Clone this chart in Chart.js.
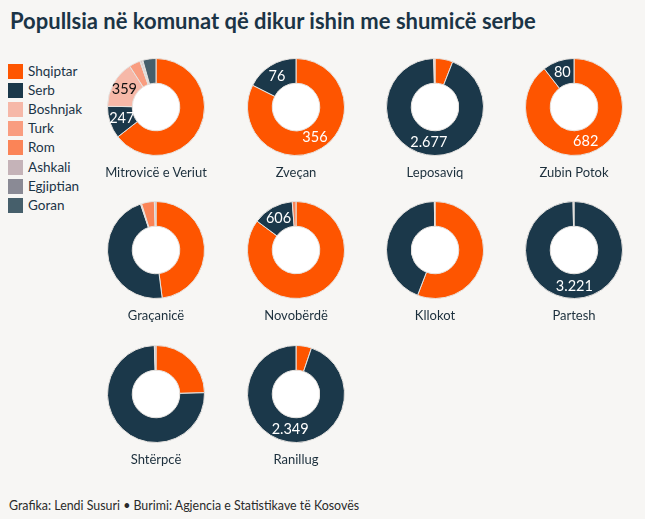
<!DOCTYPE html>
<html>
<head>
<meta charset="utf-8">
<script src="https://cdn.jsdelivr.net/npm/chart.js@4"></script>
<style>
  html, body { margin:0; padding:0; background:#f7f6f4; }
  body { width:645px; height:519px; position:relative; overflow:hidden; font-family: Lato, "Noto Sans", sans-serif; color:#1c2f3c; }
  #title { position:absolute; left:10px; top:7px; font-size:22px; font-weight:700; color:#1b3446; white-space:nowrap; }
  .leg { position:absolute; left:8px; height:15px; font-size:13.5px; line-height:15px; white-space:nowrap; color:#1b3446; }
  .leg span.sw { display:inline-block; width:15px; height:15px; vertical-align:top; margin-right:5px; }
  .cw { position:absolute; width:120px; height:120px; }
  .name { position:absolute; width:140px; text-align:center; font-size:13px; color:#1c2f3c; white-space:nowrap; }
  #foot { position:absolute; left:9px; top:498px; font-size:12.4px; color:#2a2a2a; white-space:nowrap; }
</style>
</head>
<body>
<div id="title">Popullsia në komunat që dikur ishin me shumicë serbe</div>
<div id="foot">Grafika: Lendi Susuri • Burimi: Agjencia e Statistikave të Kosovës</div>
<script>
// ---- DATA ----
const categories = ["Shqiptar","Serb","Boshnjak","Turk","Rom","Ashkali","Egjiptian","Goran"];
const municipalities = ["Mitrovicë e Veriut","Zveçan","Leposaviq","Zubin Potok","Graçanicë","Novobërdë","Kllokot","Partesh","Shtërpcë","Ranillug"];
const shqiptar  = [1475, 356,  170, 682, 5300, 3790, 1570,    0, 2470,  128];
const serb      = [ 247,  76, 2677,  80, 5180,  606, 1235, 3221, 7520, 2349];
const boshnjak  = [ 359,   0,   12,   0,   40,    0,    0,    0,    0,    0];
const turk      = [  85,   0,    0,   0,    0,    0,    0,    0,    0,    0];
const rom       = [   5,   0,    0,   0,  470,   55,    0,    0,    0,    0];
const ashkali   = [  12,   0,    0,   0,   60,    0,    6,   10,   55,    0];
const egjiptian = [   6,   0,    0,   0,    0,    0,    0,    0,    0,    0];
const goran     = [ 100,   0,    0,   0,    0,    0,    0,    0,    0,    0];
// which values carry a printed label: [municipality index, category index]
const labelled = [[0,1],[0,2],[1,0],[1,1],[2,1],[3,0],[3,1],[5,1],[7,1],[9,1]];

// ---- STYLE ----
const colors = ["#fe5500","#1b384a","#f6b8a8","#f99d80","#fb8457","#c5b3b8","#8a8a95","#465f6b"];
const labelColors = ["#ffffff","#ffffff","#111111","#111111","#111111","#111111","#ffffff","#ffffff"];
const colX = [156, 296, 435, 574];
const rowY = [106.5, 250, 394];
const gridPos = [[0,0],[1,0],[2,0],[3,0],[0,1],[1,1],[2,1],[3,1],[0,2],[1,2]];

const series = [shqiptar, serb, boshnjak, turk, rom, ashkali, egjiptian, goran];

// legend
categories.forEach((c,i)=>{
  const d = document.createElement('div');
  d.className='leg';
  d.style.top = (64 + i*19.1) + 'px';
  d.innerHTML = '<span class="sw" style="background:'+colors[i]+'"></span>'+c;
  document.body.appendChild(d);
});

const fmt = v => String(v).replace(/\B(?=(\d{3})+(?!\d))/g, '.');

const holePlugin = {
  id:'hole',
  beforeDatasetsDraw(chart){
    const meta = chart.getDatasetMeta(0);
    const arc = meta.data[0];
    if(!arc) return;
    const ctx = chart.ctx;
    ctx.save();
    ctx.fillStyle = '#ffffff';
    ctx.beginPath();
    ctx.arc(arc.x, arc.y, arc.innerRadius, 0, Math.PI*2);
    ctx.fill();
    ctx.restore();
  }
};
const labelPlugin = {
  id:'vlabels',
  afterDatasetsDraw(chart){
    const mi = chart.options.plugins.vlabels.mi;
    const meta = chart.getDatasetMeta(0);
    const ctx = chart.ctx;
    ctx.save();
    ctx.font = '14.5px Lato, "Noto Sans", sans-serif';
    ctx.textAlign='center';
    ctx.textBaseline='middle';
    labelled.filter(p=>p[0]===mi).forEach(p=>{
      const ci = p[1];
      const arc = meta.data[ci];
      const pt = arc.getCenterPoint();
      ctx.fillStyle = labelColors[ci];
      ctx.fillText(fmt(series[ci][mi]), pt.x, pt.y);
    });
    ctx.restore();
  }
};

municipalities.forEach((m,mi)=>{
  const [c,r] = gridPos[mi];
  const cx = colX[c], cy = rowY[r];
  const wrap = document.createElement('div');
  wrap.className='cw';
  wrap.style.left = (cx-60)+'px';
  wrap.style.top = (cy-60)+'px';
  const cv = document.createElement('canvas');
  cv.width=120; cv.height=120;
  cv.style.width='120px'; cv.style.height='120px';
  wrap.appendChild(cv);
  document.body.appendChild(wrap);
  const nm = document.createElement('div');
  nm.className='name';
  nm.style.left=(cx-70)+'px';
  nm.style.top=(cy+57)+'px';
  nm.textContent = m;
  document.body.appendChild(nm);

  new Chart(cv, {
    type:'doughnut',
    data:{
      labels: categories,
      datasets:[{
        data: series.map(s=>s[mi]),
        backgroundColor: colors,
        borderColor:'#e6e3e0',
        borderWidth:1,
        hoverOffset:0
      }]
    },
    options:{
      responsive:false,
      animation:false,
      radius:48.5,
      cutout:'49%',
      layout:{padding:0},
      plugins:{ legend:{display:false}, tooltip:{enabled:false}, vlabels:{mi:mi} },
      events:[]
    },
    plugins:[holePlugin,labelPlugin]
  });
});
</script>
</body>
</html>
